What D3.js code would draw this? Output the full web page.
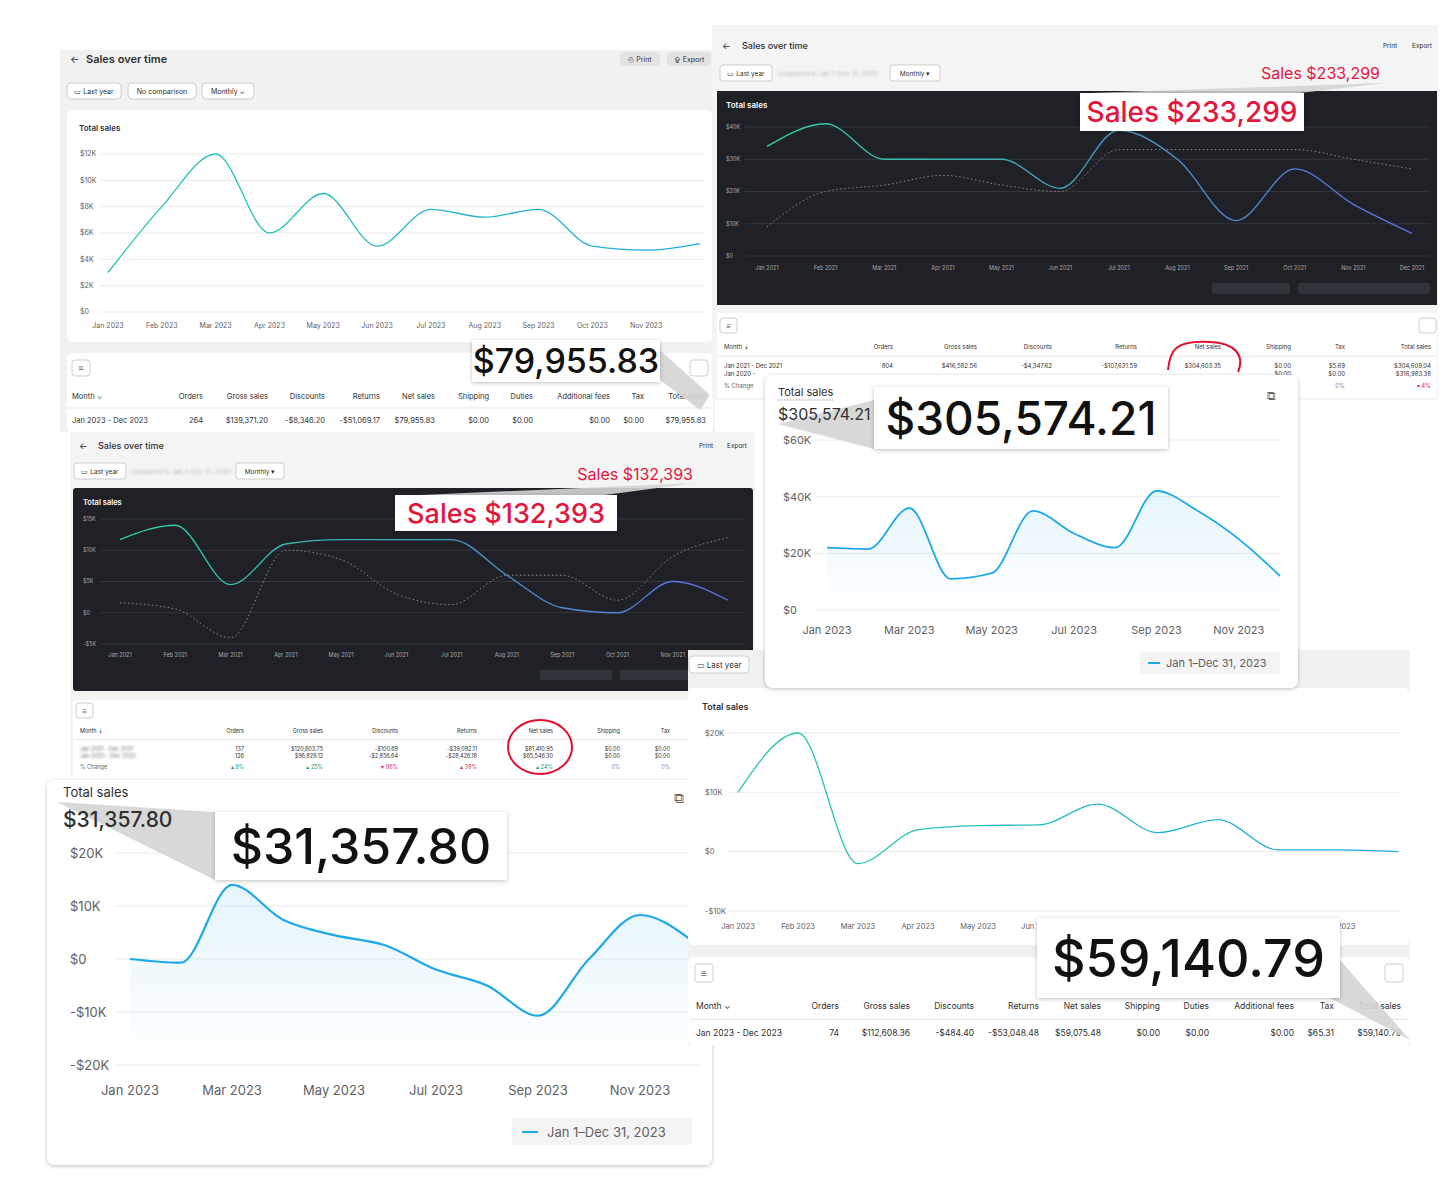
<!DOCTYPE html>
<html><head><meta charset="utf-8">
<script src="https://cdn.jsdelivr.net/npm/d3@7"></script>
<style>body{margin:0;background:#fff;font-family:Inter,"Noto Sans",sans-serif}</style>
</head><body><svg id="c" width="1448" height="1200"></svg>
<script>
const months23 = ["Jan 2023","Feb 2023","Mar 2023","Apr 2023","May 2023","Jun 2023","Jul 2023","Aug 2023","Sep 2023","Oct 2023","Nov 2023","Dec 2023"];
const months21 = months23.map(m => m.replace("2023","2021"));
const salesA = [3000,8000,12000,6000,9000,5000,7800,7200,7800,5000,4700,5200];
const salesB = [34000,41000,30000,30000,30000,21000,39000,30000,11000,27000,16000,7000];
const salesBprev = [9000,20000,22000,25000,22000,20000,33000,33000,33000,33000,30000,27000];
const salesC = [11700,14000,4500,11000,11700,11700,11700,6000,800,0,5000,2000];
const salesCprev = [1600,600,-4000,10000,8500,3000,1300,6000,6000,2000,9000,12000];
const salesD = [22000,21500,36000,11000,13000,35000,27000,22000,42000,35000,25000,12000];
const salesE = [10000,20000,-2000,3700,4400,4500,8000,3200,5400,300,300,0];
const salesF = [0,-700,14000,7400,4500,2600,-2000,-5000,-10700,0,8300,3600];
const cols1 = ["Month ⌄","Orders","Gross sales","Discounts","Returns","Net sales","Shipping","Duties","Additional fees","Tax","Total sales"];
const row1 = ["Jan 2023 - Dec 2023","264","$139,371.20","-$8,346.20","-$51,069.17","$79,955.83","$0.00","$0.00","$0.00","$0.00","$79,955.83"];
const row5 = ["Jan 2023 - Dec 2023","74","$112,608.36","-$484.40","-$53,048.48","$59,075.48","$0.00","$0.00","$0.00","$65.31","$59,140.79"];
const cols2 = ["Month ⇣","Orders","Gross sales","Discounts","Returns","Net sales","Shipping","Tax","Total sales"];
const row2 = ["Jan 2021 - Dec 2021","804","$416,582.56","-$4,347.62","-$107,631.59","$304,603.35","$0.00","$5.69","$304,609.04"];
const row2b = ["Jan 2020 -","","","","","","$0.00","$0.00","$316,983.38"];
const row3 = ["Jan 2021 - Dec 2021","137","$120,603.75","-$100.69","-$39,092.11","$81,410.95","$0.00","$0.00"];
const row3b = ["Jan 2020 - Dec 2020","126","$96,829.12","-$2,856.64","-$28,426.18","$65,546.30","$0.00","$0.00"];

const svg = d3.select("#c");
const defs = svg.append("defs");
function grad(id, a, b) {
  const g = defs.append("linearGradient").attr("id", id).attr("x1","0").attr("x2","1").attr("y1","0").attr("y2","0");
  g.append("stop").attr("offset","0").attr("stop-color",a);
  g.append("stop").attr("offset","1").attr("stop-color",b);
}
grad("gl", "#27c9a8", "#20a8e8");
grad("gd", "#2dd4a0", "#5b6ee8");
const sh = defs.append("filter").attr("id","sh").attr("x","-5%").attr("y","-5%").attr("width","110%").attr("height","115%");
sh.append("feDropShadow").attr("dx",0).attr("dy",1).attr("stdDeviation",2).attr("flood-opacity",0.25);
const fg = defs.append("linearGradient").attr("id","fill").attr("x1","0").attr("x2","0").attr("y1","0").attr("y2","1");
fg.append("stop").attr("offset","0").attr("stop-color","#1fa8e8").attr("stop-opacity",0.12);
fg.append("stop").attr("offset","1").attr("stop-color","#1fa8e8").attr("stop-opacity",0);
defs.append("filter").attr("id","blur").append("feGaussianBlur").attr("stdDeviation",1.2);

function txt(x, y, s, o = {}) {
  return svg.append("text").attr("x", x).attr("y", y).text(s)
    .attr("font-size", o.size || 8).attr("fill", o.fill || "#303030")
    .attr("font-weight", o.weight || 400).attr("text-anchor", o.anchor || "start");
}
function box(x, y, w, h, o = {}) {
  return svg.append("rect").attr("x", x).attr("y", y).attr("width", w).attr("height", h)
    .attr("rx", o.rx || 0).attr("fill", o.fill || "#fff").attr("stroke", o.stroke || "none");
}

function chart(o) {
  const x = d3.scalePoint().domain(o.labels).range([o.x0, o.x1]);
  const y = d3.scaleLinear().domain(o.domain).range([o.y0, o.y1]);
  const g = svg.append("g");
  o.ticks.forEach(t => {
    g.append("line").attr("x1", o.gx0).attr("x2", o.gx1).attr("y1", y(t)).attr("y2", y(t))
      .attr("stroke", o.dark ? "#34373e" : "#ebebeb");
    g.append("text").attr("x", o.tx).attr("y", y(t) + o.fs * 0.35).text(o.fmt(t))
      .attr("font-size", o.fs).attr("fill", o.dark ? "#aaa" : "#616161");
  });
  o.labels.forEach((l, i) => {
    if (o.every && i % o.every) return;
    if (o.skipLast && i === o.labels.length - 1) return;
    g.append("text").attr("x", x(l)).attr("y", o.ly).attr("text-anchor", "middle").text(l)
      .attr("font-size", o.fs).attr("fill", o.dark ? "#aaa" : "#616161");
  });
  const line = d3.line().x((d, i) => x(o.labels[i])).y(d => y(d)).curve(d3.curveMonotoneX);
  if (o.area) {
    const ar = d3.area().x((d, i) => x(o.labels[i])).y0(y(o.domain[0])).y1(d => y(d)).curve(d3.curveMonotoneX);
    g.append("path").attr("d", ar(o.values)).attr("fill", "url(#fill)");
  }
  if (o.prev) g.append("path").attr("d", line(o.prev)).attr("fill", "none")
    .attr("stroke", "#888").attr("stroke-width", 1).attr("stroke-dasharray", "1.5 2.5");
  g.append("path").attr("d", line(o.values)).attr("fill", "none")
    .attr("stroke", o.stroke).attr("stroke-width", o.sw || 1.3);
}

// ends: right edge of each column after the first
function table(x, y, x2, cols, rows, fs, ends, blurFirst) {
  const px = i => i ? ends[i - 1] : x;
  const an = i => i ? "end" : "start";
  cols.forEach((c, i) => txt(px(i), y, c, { size: fs, anchor: an(i) }));
  svg.append("line").attr("x1", x - 6).attr("x2", x2).attr("y1", y + fs * 1.2).attr("y2", y + fs * 1.2).attr("stroke", "#e3e3e3");
  rows.forEach((r, j) => r.forEach((c, i) => {
    const t = txt(px(i), y + fs * 3.2 + j * fs * 1.35, c, { size: fs, anchor: an(i) });
    if (blurFirst && i === 0) t.attr("filter", "url(#blur)").attr("fill", "#777");
  }));
}

function wedge(p) { svg.append("polygon").attr("points", p).attr("fill", "#d4d4d4").attr("opacity", 0.9); }
function callout(x, y, w, h, s, size, fill) {
  box(x, y, w, h).attr("filter", "url(#sh)");
  txt(x + w / 2, y + h / 2 + size * 0.36, s, { size, fill, anchor: "middle", weight: 500 });
}
const k = v => v === 0 ? "$0" : (v < 0 ? "-$" : "$") + Math.abs(v / 1000) + "K";

// Panel 1 (light, top-left)
box(60, 50, 655, 382, { fill: "#f1f1f1" });
txt(70, 63, "←", { size: 10 }); txt(86, 63, "Sales over time", { size: 11, weight: 600 });
[[620,"⎙ Print",40],[667,"⇪ Export",44]].forEach(d => { box(d[0], 52, d[2], 14, { rx: 4, fill: "#e3e3e3" }); txt(d[0] + d[2] / 2, 62, d[1], { size: 7, anchor: "middle" }); });
[[67,"▭ Last year",54],[128,"No comparison",68],[202,"Monthly ⌄",52]].forEach(d => { box(d[0], 83, d[2], 16, { rx: 4, stroke: "#ccc" }); txt(d[0] + d[2] / 2, 94, d[1], { size: 7, anchor: "middle" }); });
box(67, 110, 646, 232, { rx: 6 });
txt(79, 131, "Total sales", { size: 8, weight: 600 });
chart({ labels: months23, values: salesA, domain: [0, 12000], ticks: [0,2000,4000,6000,8000,10000,12000], fmt: k,
  x0: 108, x1: 700, y0: 312, y1: 154, gx0: 100, gx1: 705, tx: 80, ly: 328, fs: 7, stroke: "url(#gl)", skipLast: true });
box(67, 353, 646, 80, { rx: 6 });
box(72, 360, 18, 16, { rx: 3, stroke: "#ccc" }); txt(81, 371, "≡", { size: 9, anchor: "middle", fill: "#666" });
box(690, 360, 18, 16, { rx: 3, stroke: "#ccc" });
table(72, 399, 712, cols1, [row1], 7.5, [203, 268, 325, 380, 435, 489, 533, 610, 644, 706]);

// Panel 2 (dark, top-right)
box(712, 25, 726, 375, { fill: "#f4f4f4" });
txt(722, 49, "←", { size: 9 }); txt(742, 49, "Sales over time", { size: 9, weight: 500 });
txt(1390, 48, "Print", { size: 6.5, anchor: "middle" }); txt(1422, 48, "Export", { size: 6.5, anchor: "middle" });
box(720, 65, 52, 16, { rx: 3, stroke: "#ccc" }); txt(746, 76, "▭ Last year", { size: 6.5, anchor: "middle" });
txt(778, 76, "compared to Jan 1–Dec 31, 2020", { size: 6.5, fill: "#bbb" }).attr("filter", "url(#blur)");
box(890, 65, 50, 16, { rx: 3, stroke: "#ccc" }); txt(915, 76, "Monthly ▾", { size: 6.5, anchor: "middle" });
box(717, 91, 720, 214, { fill: "#1f2126" });
txt(726, 108, "Total sales", { size: 8, fill: "#fff", weight: 600 });
chart({ labels: months21, values: salesB, prev: salesBprev, domain: [0, 40000], ticks: [0,10000,20000,30000,40000], fmt: k,
  x0: 767, x1: 1412, y0: 256, y1: 127, gx0: 745, gx1: 1430, tx: 726, ly: 270, fs: 5.5, stroke: "url(#gd)", dark: true });
box(1212, 283, 78, 11, { rx: 2, fill: "#30333a" }); box(1298, 283, 132, 11, { rx: 2, fill: "#30333a" });
box(717, 313, 720, 85);
box(720, 318, 17, 15, { rx: 3, stroke: "#ccc" }); txt(728.5, 329, "≡", { size: 8, anchor: "middle", fill: "#666" });
box(1419, 318, 17, 15, { rx: 3, stroke: "#ccc" });
table(724, 349, 1436, cols2, [row2, row2b], 6, [893, 977, 1052, 1137, 1221, 1291, 1345, 1431]);
txt(724, 388, "% Change", { size: 6, fill: "#666" });
txt(1345, 388, "0%", { size: 6, anchor: "end", fill: "#888" }); txt(1431, 388, "▾ 4%", { size: 6, anchor: "end", fill: "#e0245e" });
svg.append("path").attr("d", "M1168,370 C1170,350 1175,340 1210,342 C1235,343 1245,355 1238,372").attr("fill", "none").attr("stroke", "#e01030").attr("stroke-width", 2);
wedge("1090,93 1385,83 1300,93");
callout(1080, 93, 224, 38, "Sales $233,299", 28, "#e3163d");
txt(1380, 79, "Sales $233,299", { size: 16, fill: "#e3163d", anchor: "end" });

// Panel 3 (dark, middle-left)
box(70, 432, 685, 345, { fill: "#f4f4f4" });
txt(79, 449, "←", { size: 9 }); txt(98, 449, "Sales over time", { size: 9, weight: 500 });
txt(706, 448, "Print", { size: 6.5, anchor: "middle" }); txt(737, 448, "Export", { size: 6.5, anchor: "middle" });
box(74, 463, 52, 16, { rx: 3, stroke: "#ccc" }); txt(100, 474, "▭ Last year", { size: 6.5, anchor: "middle" });
txt(131, 474, "compared to Jan 1–Dec 31, 2020", { size: 6.5, fill: "#bbb" }).attr("filter", "url(#blur)");
box(236, 463, 48, 16, { rx: 3, stroke: "#ccc" }); txt(260, 474, "Monthly ▾", { size: 6.5, anchor: "middle" });
box(73, 488, 680, 203, { rx: 3, fill: "#1f2126" });
txt(83, 505, "Total sales", { size: 7.5, fill: "#fff", weight: 600 });
chart({ labels: months21, values: salesC, prev: salesCprev, domain: [-5000, 15000], ticks: [-5000,0,5000,10000,15000], fmt: k,
  x0: 120, x1: 728, y0: 644, y1: 519, gx0: 100, gx1: 745, tx: 83, ly: 657, fs: 5.5, stroke: "url(#gd)", dark: true });
box(540, 670, 72, 10, { rx: 2, fill: "#30333a" }); box(620, 670, 128, 10, { rx: 2, fill: "#30333a" });
box(73, 700, 680, 77);
box(76, 703, 17, 15, { rx: 3, stroke: "#ccc" }); txt(84.5, 714, "≡", { size: 8, anchor: "middle", fill: "#666" });
table(80, 733, 690, cols2.slice(0, 8), [row3, row3b], 5.5, [244, 323, 398, 477, 553, 620, 670], true);
txt(80, 769, "% Change", { size: 5.5, fill: "#666" });
[["▴ 9%",244,"#0a9d6a"],["▴ 25%",323,"#0a9d6a"],["▾ 96%",398,"#e0245e"],["▴ 38%",477,"#e0245e"],["▴ 24%",553,"#0a9d6a"],["0%",620,"#888"],["0%",670,"#888"]].forEach(d => txt(d[1], 769, d[0], { size: 5.5, anchor: "end", fill: d[2] }));
svg.append("ellipse").attr("cx", 540).attr("cy", 747).attr("rx", 32).attr("ry", 27).attr("fill", "none").attr("stroke", "#e01030").attr("stroke-width", 2);
wedge("420,495 695,483 605,495");
callout(395, 495, 222, 36, "Sales $132,393", 27, "#e3163d");
txt(693, 480, "Sales $132,393", { size: 16, fill: "#e3163d", anchor: "end" });

// Panel 6 (white card, bottom-left)
box(47, 780, 665, 385, { rx: 8 }).attr("filter", "url(#sh)");
txt(63, 797, "Total sales", { size: 13 });
txt(679, 803, "⧉", { size: 14, fill: "#666", anchor: "middle" });
chart({ labels: months23, values: salesF, domain: [-20000, 20000], ticks: [-20000,-10000,0,10000,20000], fmt: k,
  x0: 130, x1: 691, y0: 1065, y1: 853, gx0: 115, gx1: 700, tx: 70, ly: 1095, fs: 13, stroke: "#1fa8e8", sw: 2.2, area: true, every: 2 });
box(512, 1118, 180, 27, { rx: 3, fill: "#f4f4f4" });
svg.append("line").attr("x1", 522).attr("x2", 538).attr("y1", 1132).attr("y2", 1132).attr("stroke", "#1fa8e8").attr("stroke-width", 2);
txt(547, 1137, "Jan 1–Dec 31, 2023", { size: 13, fill: "#616161" });
wedge("57,802 215,812 215,880");
txt(63, 827, "$31,357.80", { size: 21, weight: 500 });
callout(215, 812, 292, 68, "$31,357.80", 50, "#111");

// Panel 5 (right lower)
box(688, 650, 722, 395, { fill: "#f1f1f1" });
box(689, 656, 60, 17, { rx: 4, stroke: "#ccc" }); txt(719, 668, "▭ Last year", { size: 8, anchor: "middle" });
box(688, 688, 722, 257, { rx: 6 });
txt(702, 710, "Total sales", { size: 9, weight: 600 });
chart({ labels: months23, values: salesE, domain: [-10000, 20000], ticks: [-10000,0,10000,20000], fmt: k,
  x0: 738, x1: 1398, y0: 911, y1: 733, gx0: 728, gx1: 1400, tx: 705, ly: 929, fs: 7.5, stroke: "url(#gl)", skipLast: true });
box(688, 957, 722, 88, { rx: 6 });
box(695, 964, 18, 18, { rx: 3, stroke: "#ccc" }); txt(704, 977, "≡", { size: 10, anchor: "middle", fill: "#666" });
box(1385, 964, 18, 18, { rx: 3, stroke: "#ccc" });
table(696, 1009, 1408, cols1, [row5], 8.5, [839, 910, 974, 1039, 1101, 1160, 1209, 1294, 1334, 1401]);

// Panel 4 (white card, middle-right)
box(765, 375, 533, 313, { rx: 8 }).attr("filter", "url(#sh)");
txt(778, 396, "Total sales", { size: 11 });
svg.append("line").attr("x1", 778).attr("x2", 833).attr("y1", 400).attr("y2", 400).attr("stroke", "#999").attr("stroke-dasharray", "1.5 1.5");
txt(1271, 400, "⧉", { size: 12, fill: "#666", anchor: "middle" });
chart({ labels: months23, values: salesD, domain: [0, 60000], ticks: [0,20000,40000,60000], fmt: k,
  x0: 827, x1: 1280, y0: 610, y1: 440, gx0: 815, gx1: 1280, tx: 783, ly: 634, fs: 11, stroke: "#1fa8e8", sw: 1.8, area: true, every: 2 });
box(1140, 652, 140, 22, { rx: 3, fill: "#f4f4f4" });
svg.append("line").attr("x1", 1148).attr("x2", 1160).attr("y1", 663).attr("y2", 663).attr("stroke", "#1fa8e8").attr("stroke-width", 2);
txt(1166, 667, "Jan 1–Dec 31, 2023", { size: 11, fill: "#616161" });
wedge("778,424 874,400 874,449");
txt(778, 420, "$305,574.21", { size: 16 });
callout(874, 387, 294, 62, "$305,574.21", 46, "#111");

// floating callouts
wedge("660,350 710,395 700,410 660,380");
callout(472, 340, 188, 42, "$79,955.83", 34, "#111");
wedge("1340,960 1410,1040 1330,998");
callout(1037, 918, 303, 80, "$59,140.79", 52, "#111");
</script></body></html>
